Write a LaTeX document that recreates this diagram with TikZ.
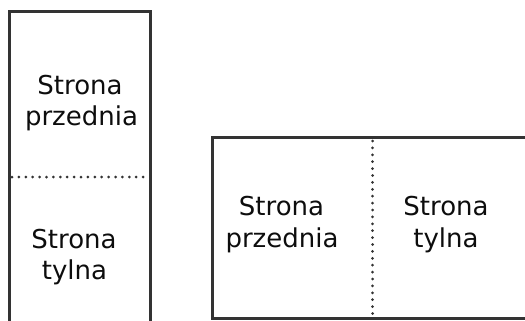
\documentclass[tikz,border=0pt]{standalone}
\usepackage{fontspec}
\setmainfont{DejaVu Sans}
\begin{document}
\begin{tikzpicture}[x=1pt,y=-1pt,
  frame/.style={draw=black!80,line width=3pt},
  dotline/.style={draw=black!80,line width=3pt,line cap=round,dash pattern=on 0pt off 6.9pt},
  lbl/.style={inner sep=0pt,anchor=base,text=black!95,font=\fontsize{26}{31}\selectfont}]
\useasboundingbox (0,0) rectangle (525,321);
% left sheet (portrait)
\draw[frame] (9,335) -- (9,12) -- (150,12) -- (150,335);
\coordinate (lh1) at (12,177);
\coordinate (lh2) at (148,177);
\draw[dotline] (lh1) -- (lh2);
\node[lbl] (l1a) at (80,94.5) {Strona};
\node[lbl] (l1b) at (81.5,125.5) {przednia};
\node[lbl] (l2a) at (74,248) {Strona};
\node[lbl] (l2b) at (74.5,279) {tylna};
% right sheet (landscape)
\draw[frame] (540,137.5) -- (212,137.5) -- (212,318.5) -- (540,318.5);
\coordinate (rv1) at (372.5,141);
\coordinate (rv2) at (372.5,316);
\draw[dotline] (rv1) -- (rv2);
\node[lbl] (r1a) at (281.5,215.5) {Strona};
\node[lbl] (r1b) at (282,247) {przednia};
\node[lbl] (r2a) at (446,215.5) {Strona};
\node[lbl] (r2b) at (446,247) {tylna};
\end{tikzpicture}
\end{document}
